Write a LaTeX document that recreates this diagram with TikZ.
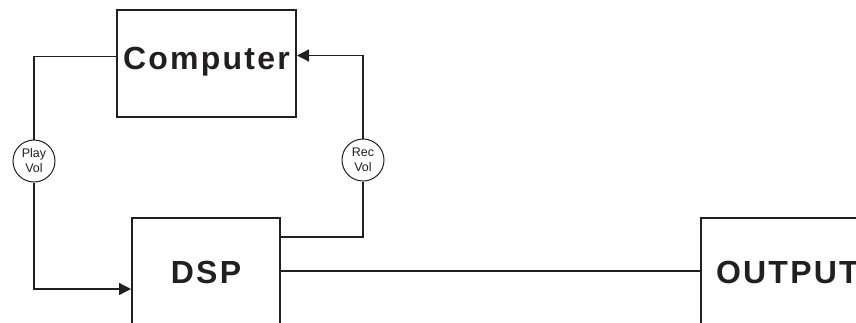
\documentclass[tikz,border=0pt]{standalone}
\usepackage{fontspec}
\setmainfont{Liberation Sans}
\newfontfamily\blockfont[LetterSpace=7]{Liberation Sans}
\usepackage{xcolor}
\usepackage{tikz}
\usetikzlibrary{arrows.meta, positioning}
\definecolor{ink}{HTML}{231F20}

\begin{document}
\begin{tikzpicture}[
    x=1pt, y=-1pt, color=ink,
    block/.style={rectangle, draw, line width=2pt, inner xsep=0pt, inner ysep=0pt, font=\blockfont\bfseries\fontsize{32}{32}\selectfont},
    vol/.style={circle, draw, line width=1pt, fill=white, minimum size=42pt, inner sep=0pt, align=center, font=\fontsize{12.5}{15}\selectfont},
    wire/.style={line width=1.3pt},
    arr/.style={wire, -{Triangle[length=12pt, width=12pt]}}
]
\useasboundingbox (0,0) rectangle (856,322);

\node [block, minimum width=179pt, text height=59pt, text depth=48pt, anchor=north west] (comp) at (116,9) {Computer};
\node [block, minimum width=148pt, text height=65pt, text depth=77pt, anchor=north west] (dsp) at (131,217) {DSP};
\node [block, inner xsep=15pt, text height=65pt, text depth=77pt, anchor=north west] (out) at (700,217) {OUTPUT};

\node [vol] (play) at (34,161) {Play\\Vol};
\node [vol] (rec) at (363,160) {Rec\\Vol};

\draw [wire] ([yshift=7pt]comp.west) -| (play);
\draw [arr] (play) |- (dsp.west);
\draw [wire] ([yshift=-20pt]dsp.north east) -| (rec);
\draw [arr] (rec) |- ([yshift=8pt]comp.east);
\draw [wire] ([yshift=18pt]dsp.east) -- ([yshift=18pt]out.west);
\end{tikzpicture}
\end{document}
